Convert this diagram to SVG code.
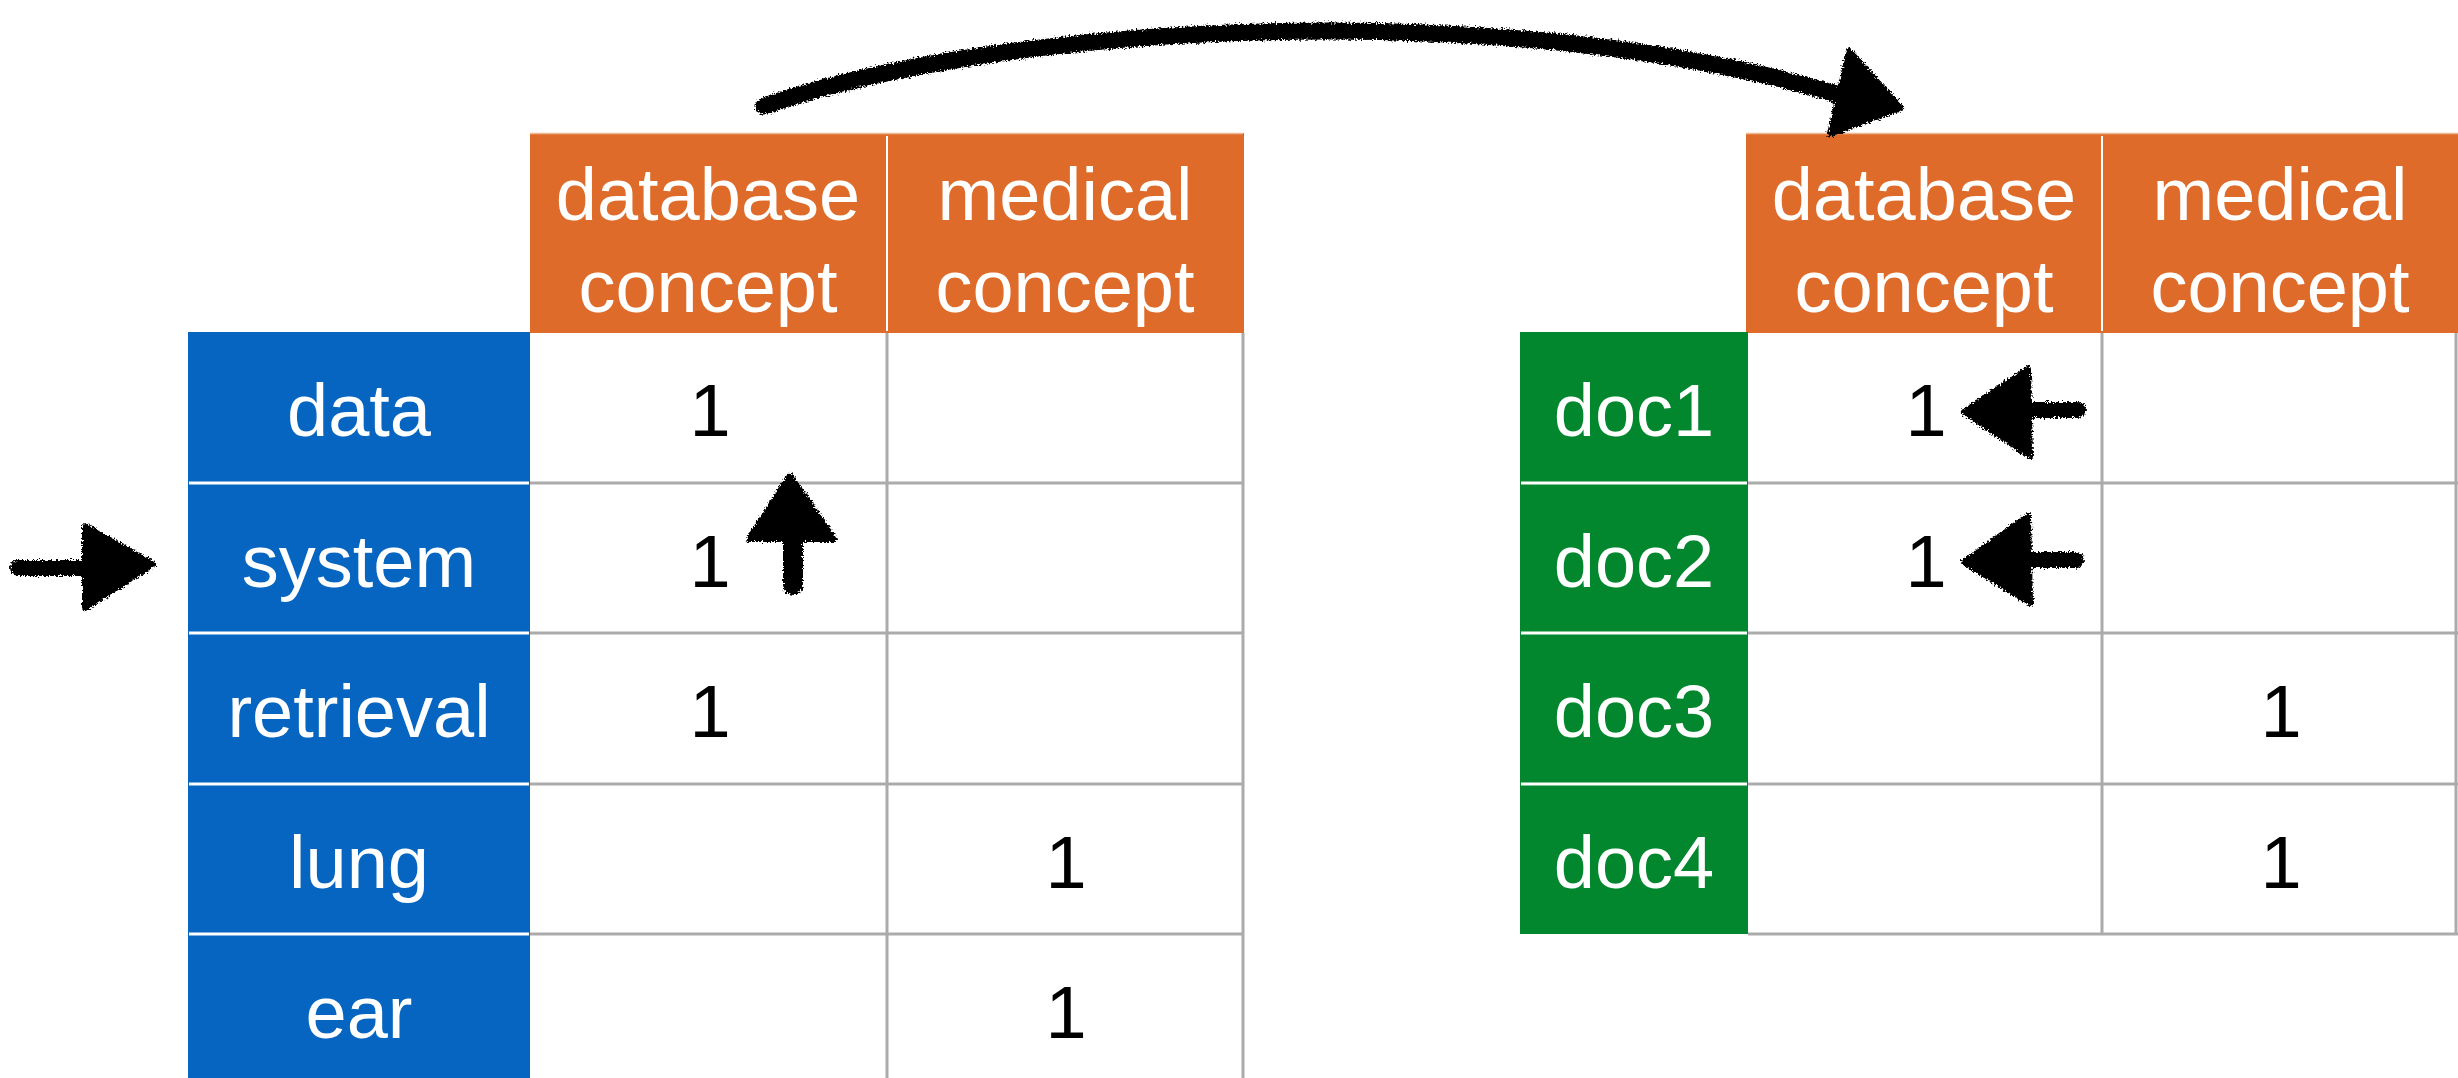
<svg xmlns="http://www.w3.org/2000/svg" width="2458" height="1078" viewBox="0 0 2458 1078">
<style>
  .hdr { fill: #DE6B2A; }
  .lbl-blue { fill: #0565C0; }
  .lbl-green { fill: #02872E; }
  .cell { fill: #FFFFFF; }
  .grid { stroke: #ABABAB; stroke-width: 3; fill: none; }
  .sep { stroke: #FFFFFF; stroke-width: 3; }
  .t { font-family: "Liberation Sans", Arial, Helvetica, sans-serif; font-size: 74px; text-anchor: middle; }
  .tw { fill: #FFFFFF; }
  .tb { fill: #000000; }
  .ink { fill: #000000; stroke: #000000; stroke-width: 6; stroke-linejoin: round; }
  .inks { stroke: #000000; fill: none; stroke-linecap: round; }
</style>
<defs>
  <filter id="rough" x="-10%" y="-30%" width="120%" height="160%">
    <feTurbulence type="fractalNoise" baseFrequency="0.55" numOctaves="2" seed="4" result="n"/>
    <feDisplacementMap in="SourceGraphic" in2="n" scale="7" xChannelSelector="R" yChannelSelector="G"/>
  </filter>
</defs>
<rect width="2458" height="1078" fill="#FFFFFF"/>

<!-- Left table: terms x concepts -->
<g id="left-table">
  <g id="L-hdr-database">
    <rect class="hdr" x="530" y="133" width="357" height="200"/>
    <text class="t tw" x="708" y="220">database</text>
    <text class="t tw" x="708" y="312">concept</text>
  </g>
  <g id="L-hdr-medical">
    <rect class="hdr" x="887" y="133" width="357" height="200"/>
    <text class="t tw" x="1065" y="220">medical</text>
    <text class="t tw" x="1065" y="312">concept</text>
  </g>
  <line x1="887" y1="136" x2="887" y2="331" stroke="#FFFFFF" stroke-width="2"/>
  <line x1="530" y1="133.5" x2="1243" y2="133.5" stroke="#EFB995" stroke-width="1.5"/>

  <rect class="cell" x="530" y="333" width="713" height="745"/>
  <g id="L-grid">
    <path class="grid" d="M887 333 V1078 M1243 333 V1078 M530 483 H1243 M530 633 H1243 M530 784 H1243 M530 934 H1243"/>
  </g>

  <g id="L-row-data">
    <rect class="lbl-blue" x="188" y="332" width="342" height="151"/>
    <text class="t tw" x="359" y="436">data</text>
    <text class="t tb" x="710" y="436">1</text>
  </g>
  <g id="L-row-system">
    <rect class="lbl-blue" x="188" y="483" width="342" height="150"/>
    <text class="t tw" x="359" y="587">system</text>
    <text class="t tb" x="710" y="587">1</text>
  </g>
  <g id="L-row-retrieval">
    <rect class="lbl-blue" x="188" y="633" width="342" height="151"/>
    <text class="t tw" x="359" y="737">retrieval</text>
    <text class="t tb" x="710" y="737">1</text>
  </g>
  <g id="L-row-lung">
    <rect class="lbl-blue" x="188" y="784" width="342" height="150"/>
    <text class="t tw" x="359" y="888">lung</text>
    <text class="t tb" x="1066" y="888">1</text>
  </g>
  <g id="L-row-ear">
    <rect class="lbl-blue" x="188" y="934" width="342" height="144"/>
    <text class="t tw" x="359" y="1038">ear</text>
    <text class="t tb" x="1066" y="1038">1</text>
  </g>
  <path class="sep" d="M189 483 H529 M189 633 H529 M189 784 H529 M189 934 H529"/>
</g>

<!-- Right table: documents x concepts -->
<g id="right-table">
  <g id="R-hdr-database">
    <rect class="hdr" x="1746" y="133" width="356" height="200"/>
    <text class="t tw" x="1924" y="220">database</text>
    <text class="t tw" x="1924" y="312">concept</text>
  </g>
  <g id="R-hdr-medical">
    <rect class="hdr" x="2102" y="133" width="356" height="200"/>
    <text class="t tw" x="2280" y="220">medical</text>
    <text class="t tw" x="2280" y="312">concept</text>
  </g>
  <line x1="2102" y1="136" x2="2102" y2="331" stroke="#FFFFFF" stroke-width="2"/>
  <line x1="1746" y1="133.5" x2="2458" y2="133.5" stroke="#EFB995" stroke-width="1.5"/>

  <rect class="cell" x="1748" y="333" width="710" height="601"/>
  <g id="R-grid">
    <path class="grid" d="M2102 333 V934 M2456 333 V934 M1748 483 H2458 M1748 633 H2458 M1748 784 H2458 M1748 934 H2458"/>
  </g>

  <g id="R-row-doc1">
    <rect class="lbl-green" x="1520" y="332" width="228" height="151"/>
    <text class="t tw" x="1634" y="436">doc1</text>
    <text class="t tb" x="1926" y="436">1</text>
  </g>
  <g id="R-row-doc2">
    <rect class="lbl-green" x="1520" y="483" width="228" height="150"/>
    <text class="t tw" x="1634" y="587">doc2</text>
    <text class="t tb" x="1926" y="587">1</text>
  </g>
  <g id="R-row-doc3">
    <rect class="lbl-green" x="1520" y="633" width="228" height="151"/>
    <text class="t tw" x="1634" y="737">doc3</text>
    <text class="t tb" x="2281" y="737">1</text>
  </g>
  <g id="R-row-doc4">
    <rect class="lbl-green" x="1520" y="784" width="228" height="150"/>
    <text class="t tw" x="1634" y="888">doc4</text>
    <text class="t tb" x="2281" y="888">1</text>
  </g>
  <path class="sep" d="M1521 483 H1747 M1521 633 H1747 M1521 784 H1747"/>
</g>

<!-- Hand-drawn arrows -->
<g id="connectors" filter="url(#rough)">
  <g id="arrow-curve">
    <path class="inks" d="M764 106 C1000 24, 1500 -6, 1840 95" stroke-width="17"/>
    <polygon class="ink" points="1849,51 1901,108 1830,134"/>
  </g>
  <g id="arrow-left-in">
    <path class="inks" d="M18 568 H88" stroke-width="16"/>
    <polygon class="ink" points="85,526 153,564 85,608"/>
  </g>
  <g id="arrow-up">
    <path class="inks" d="M793 538 V585" stroke-width="20"/>
    <polygon class="ink" points="749,539 790,476 834,539"/>
  </g>
  <g id="arrow-doc1">
    <path class="inks" d="M2028 410 H2078" stroke-width="16"/>
    <polygon class="ink" points="1964,412 2028,369 2030,456"/>
  </g>
  <g id="arrow-doc2">
    <path class="inks" d="M2028 560 H2076" stroke-width="16"/>
    <polygon class="ink" points="1964,562 2028,516 2030,603"/>
  </g>
</g>
</svg>
